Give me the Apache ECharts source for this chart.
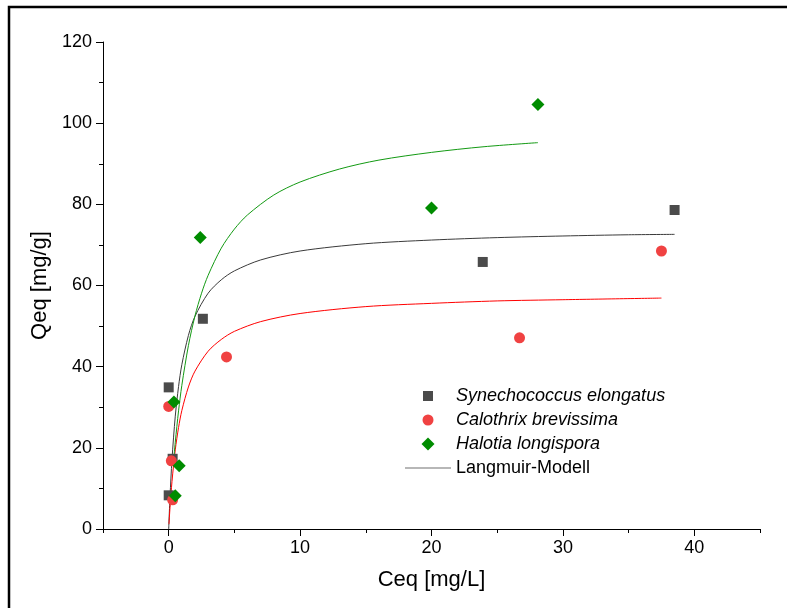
<!DOCTYPE html>
<html>
<head>
<meta charset="utf-8">
<script src="https://cdn.jsdelivr.net/npm/echarts@6/dist/echarts.min.js"></script>
<style>
  html, body { margin: 0; padding: 0; background: #fff; }
  #main { width: 787px; height: 608px; }
</style>
</head>
<body>
<div id="main"></div>
<script>
// messpunkte (Ceq, Qeq)
const synX = [0.0, 0.3, 0.0, 2.6, 23.9, 38.5];
const synY = [8.3, 17.3, 34.9, 51.8, 65.8, 78.6];
const calX = [0.0, 0.2, 0.3, 4.4, 26.7, 37.5];
const calY = [30.2, 16.8, 7.2, 42.4, 47.1, 68.5];
const halX = [0.4, 0.8, 0.5, 2.4, 20.0, 28.1];
const halY = [31.3, 15.6, 8.2, 71.8, 79.1, 104.6];

const fitSynX = [0, 0.1, 0.25, 0.5, 0.75, 1, 1.5, 2, 3, 4, 5, 7, 10, 15, 20, 25, 30, 35, 38.5];
const fitSynY = [0, 8.0, 17.1, 27.8, 35.1, 40.5, 47.7, 52.4, 58.1, 61.4, 63.6, 66.3, 68.5, 70.3, 71.2, 71.8, 72.2, 72.5, 72.6];
const fitCalX = [0.02, 0.1, 0.25, 0.5, 0.75, 1, 1.5, 2, 3, 4, 5, 7, 10, 15, 20, 25, 30, 37.5];
const fitCalY = [1.2, 5.3, 11.7, 19.5, 25.0, 29.2, 35.0, 38.9, 43.8, 46.7, 48.7, 51.1, 53.1, 54.8, 55.6, 56.2, 56.5, 56.9];
const fitHalX = [0.36, 0.5, 0.75, 1, 1.5, 2, 2.5, 3, 4, 5, 6, 8, 10, 13, 16, 20, 24, 28.1];
const fitHalY = [16.4, 21.4, 29.1, 35.4, 45.2, 52.5, 58.1, 62.5, 69.2, 73.9, 77.4, 82.3, 85.5, 88.7, 90.9, 92.8, 94.2, 95.2];

const xLabels = [0, 10, 20, 30, 40];
const xMinor = [-5, 5, 15, 25, 35, 45];

const zip = (a, b) => a.map((v, i) => [v, b[i]]);

const font = 'Arial, "Liberation Sans", sans-serif';
// icons in einem 13er kasten, damit die groessen wie im original bleiben
const squareIcon = 'path://M0,0M13,13M1.5,1.5H11.5V11.5H1.5Z';
const circleIcon = 'path://M0,0M13,13M1,6.5A5.5,5.5,0,1,1,12,6.5A5.5,5.5,0,1,1,1,6.5Z';
const diamondIcon = 'path://M6.5,0L13,6.5L6.5,13L0,6.5Z';
const lineIcon = 'path://M0,0H100V2.5H0Z';

const myChart = echarts.init(document.getElementById('main'));

const option = {
    animation: false,
    backgroundColor: '#fff',
    graphic: [{
        type: 'rect',
        shape: { x: 9, y: 7, width: 900, height: 700 },
        style: { fill: 'none', stroke: '#000', lineWidth: 2.5 },
        silent: true
    }],
    grid: { left: 103, right: 27, top: 42, bottom: 79 },
    legend: {
        orient: 'vertical',
        left: 400,
        top: 382,
        itemWidth: 46,
        itemHeight: 13,
        itemGap: 6,
        symbolKeepAspect: true,
        textStyle: { fontSize: 18, color: '#000', fontFamily: font },
        data: [
            { name: 'Synechococcus elongatus', icon: squareIcon, textStyle: { fontStyle: 'italic' } },
            { name: 'Calothrix brevissima', icon: circleIcon, textStyle: { fontStyle: 'italic' } },
            { name: 'Halotia longispora', icon: diamondIcon, textStyle: { fontStyle: 'italic' } },
            { name: 'Langmuir-Modell', icon: lineIcon, itemStyle: { color: '#707070' } }
        ]
    },
    xAxis: [{
        type: 'value',
        min: -5,
        max: 45,
        name: 'Ceq [mg/L]',
        nameLocation: 'middle',
        nameGap: 40,
        nameTextStyle: { fontSize: 22, color: '#000', fontFamily: font },
        splitLine: { show: false },
        axisLine: { onZero: false, lineStyle: { color: '#000', width: 1 } },
        axisTick: { customValues: xLabels, length: 7, lineStyle: { color: '#000' } },
        axisLabel: { customValues: xLabels, margin: 10, fontSize: 18, color: '#000', fontFamily: font }
    }, {
        // nur die kleinen striche
        type: 'value',
        min: -5,
        max: 45,
        position: 'bottom',
        splitLine: { show: false },
        axisLine: { show: false },
        axisTick: { customValues: xMinor, length: 4, lineStyle: { color: '#000' } },
        axisLabel: { show: false }
    }],
    yAxis: {
        type: 'value',
        min: 0,
        max: 120,
        interval: 20,
        name: 'Qeq [mg/g]',
        nameLocation: 'middle',
        nameGap: 50,
        nameTextStyle: { fontSize: 22, color: '#000', fontFamily: font },
        splitLine: { show: false },
        axisLine: { show: true, onZero: false, lineStyle: { color: '#000', width: 1 } },
        axisTick: { show: true, length: 7, lineStyle: { color: '#000' } },
        minorTick: { show: true, splitNumber: 2, length: 4, lineStyle: { color: '#000' } },
        axisLabel: { margin: 11, fontSize: 18, color: '#000', fontFamily: font }
    },
    series: [
        {
            name: 'Langmuir-Modell',
            type: 'line',
            data: zip(fitSynX, fitSynY),
            symbol: 'none',
            smooth: 0.3,
            lineStyle: { color: '#3a3a3a', width: 1 },
            itemStyle: { color: '#3a3a3a' },
            z: 2
        },
        {
            name: 'Langmuir Calothrix',
            type: 'line',
            data: zip(fitCalX, fitCalY),
            symbol: 'none',
            smooth: 0.3,
            lineStyle: { color: '#ff0000', width: 1 },
            z: 2
        },
        {
            name: 'Langmuir Halotia',
            type: 'line',
            data: zip(fitHalX, fitHalY),
            symbol: 'none',
            smooth: 0.3,
            lineStyle: { color: '#139a13', width: 1 },
            z: 2
        },
        {
            name: 'Synechococcus elongatus',
            type: 'scatter',
            data: zip(synX, synY),
            symbol: 'rect',
            symbolSize: 10,
            itemStyle: { color: '#4b4b4b', opacity: 1 },
            z: 3
        },
        {
            name: 'Calothrix brevissima',
            type: 'scatter',
            data: zip(calX, calY),
            symbol: 'circle',
            symbolSize: 11,
            itemStyle: { color: '#f04242', opacity: 1 },
            z: 4
        },
        {
            name: 'Halotia longispora',
            type: 'scatter',
            data: zip(halX, halY),
            symbol: 'diamond',
            symbolSize: 13,
            itemStyle: { color: '#008c00', opacity: 1 },
            z: 5
        }
    ]
};

myChart.setOption(option);
</script>
</body>
</html>
